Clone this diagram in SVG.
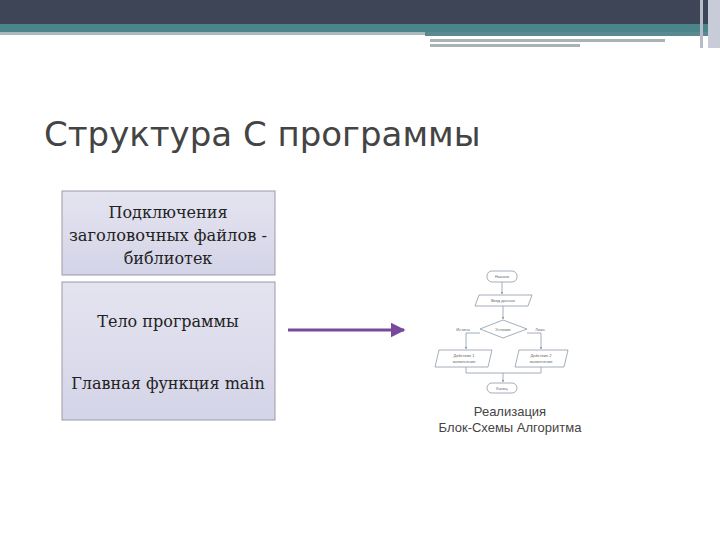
<svg xmlns="http://www.w3.org/2000/svg" width="720" height="540" viewBox="0 0 720 540">
<style>
.t{font-family:"DejaVu Serif",serif;font-size:16px;fill:#222;text-anchor:middle}
.fc{fill:none;stroke:#8a9aa8;stroke-width:0.8}
.ft{font-family:"Liberation Sans",sans-serif;font-size:4px;fill:#666;text-anchor:middle}
</style>
<defs>
<linearGradient id="g" x1="0" y1="0" x2="0" y2="1"><stop offset="0" stop-color="#e4e4f0"/><stop offset="1" stop-color="#d4d4e8"/></linearGradient>
<marker id="a" viewBox="0 0 10 10" refX="9" refY="5" markerWidth="5" markerHeight="5" orient="auto"><path d="M0 0L10 5L0 10z" fill="#7a4a9a"/></marker>
<marker id="s" viewBox="0 0 10 10" refX="9" refY="5" markerWidth="3" markerHeight="3" orient="auto"><path d="M0 0L10 5L0 10z" fill="#8a9aa8"/></marker>
</defs>
<rect width="720" height="540" fill="#fff"/>
<rect width="720" height="24" fill="#3e4556"/>
<rect y="24" width="720" height="8" fill="#4a8589"/>
<rect y="32" width="425" height="3" fill="#a8b8bc"/>
<rect x="425" y="32" width="295" height="4" fill="#5a8a90"/>
<rect x="430" y="39" width="235" height="3" fill="#a8b4b4"/>
<rect x="430" y="44" width="150" height="3" fill="#a8b4b4"/>
<rect x="700" y="0" width="3" height="48" fill="#b8bcc8"/>
<rect x="708" y="0" width="12" height="48" fill="#c8ccd8"/>
<text x="44" y="146" font-family="'DejaVu Sans',sans-serif" font-size="34" fill="#444">Структура С программы</text>
<g id="n1"><rect x="62" y="191" width="213" height="84" fill="url(#g)" stroke="#9a9aa8"/>
<text class="t" x="168" y="218">Подключения</text><text class="t" x="168" y="241" textLength="198" lengthAdjust="spacingAndGlyphs">заголовочных файлов -</text><text class="t" x="168" y="264">библиотек</text></g>
<g id="n2"><rect x="62" y="282" width="213" height="138" fill="url(#g)" stroke="#9a9aa8"/>
<text class="t" x="168" y="327">Тело программы</text><text class="t" x="168" y="389">Главная функция main</text></g>
<g id="edges"><line x1="288" y1="330" x2="404" y2="330" stroke="#7a4a9a" stroke-width="3" marker-end="url(#a)"/></g>
<g id="flow">
<rect class="fc" x="487" y="271" width="30" height="11" rx="5"/><text class="ft" x="502" y="278">Начало</text>
<line class="fc" x1="502" y1="282" x2="502" y2="294" marker-end="url(#s)"/>
<path class="fc" d="M479 295H532L528 306H475Z"/><text class="ft" x="503" y="302">Ввод данных</text>
<line class="fc" x1="503" y1="306" x2="503" y2="319" marker-end="url(#s)"/>
<path class="fc" d="M503 320L527 329L503 338L480 329Z"/><text class="ft" x="503" y="331">Условие</text>
<path class="fc" d="M480 333H466V349" marker-end="url(#s)"/>
<path class="fc" d="M527 333H541V349" marker-end="url(#s)"/>
<text class="ft" x="463" y="331">Истина</text><text class="ft" x="540" y="331">Ложь</text>
<path class="fc" d="M439 350H492L488 367H435Z"/><text class="ft" x="464" y="357">Действие 1</text><text class="ft" x="464" y="363">выполнение</text>
<path class="fc" d="M519 350H568L564 367H515Z"/><text class="ft" x="541" y="357">Действие 2</text><text class="ft" x="541" y="363">выполнение</text>
<path class="fc" d="M466 367V373H541V367M503 373V382" marker-end="url(#s)"/>
<rect class="fc" x="487" y="383" width="30" height="10" rx="5"/><text class="ft" x="502" y="390">Конец</text>
<text x="510" y="416" font-family="'Liberation Sans',sans-serif" font-size="13" fill="#444" text-anchor="middle">Реализация</text>
<text x="510" y="432" font-family="'Liberation Sans',sans-serif" font-size="13" fill="#444" text-anchor="middle">Блок-Схемы Алгоритма</text>
</g>
</svg>
